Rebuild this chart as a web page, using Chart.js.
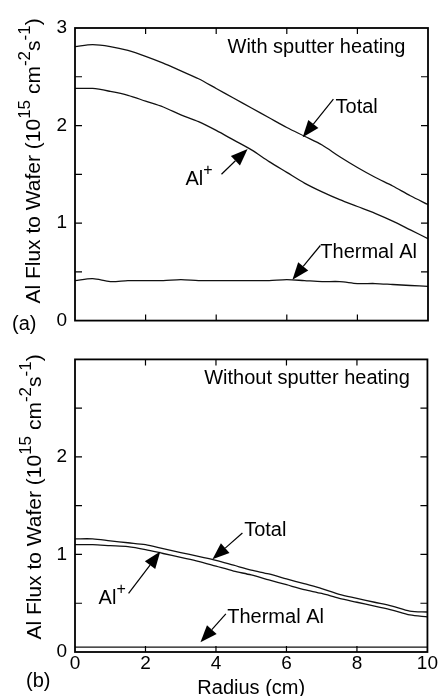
<!DOCTYPE html>
<html lang="en">
<head>
<meta charset="UTF-8">
<script src="https://cdn.jsdelivr.net/npm/chart.js@4.4.0/dist/chart.umd.min.js"></script>
<title>Al flux to wafer</title>
<style>
  body { margin: 0; background: #fff; }
  #wrap { position: relative; width: 438px; height: 696px; }
  canvas { position: absolute; left: 0; }
</style>
</head>
<body>
<div id="wrap">
  <canvas id="chartA" width="438" height="340" style="top:0"></canvas>
  <canvas id="chartB" width="438" height="356" style="top:340px"></canvas>
</div>
<script>
// radius (cm)
const radius = [0, 0.5, 1, 1.5, 2, 2.5, 3, 3.5, 4, 4.5, 5, 5.5, 6, 6.5, 7, 7.5, 8, 8.5, 9, 9.5, 10];

// (a) with sputter heating, 10^15 cm-2 s-1
const totalHeated   = [2.81, 2.83, 2.81, 2.77, 2.71, 2.64, 2.56, 2.48, 2.38, 2.28, 2.18, 2.08, 1.98, 1.89, 1.80, 1.68, 1.57, 1.47, 1.38, 1.28, 1.19];
const ionHeated     = [2.38, 2.38, 2.35, 2.31, 2.25, 2.19, 2.11, 2.04, 1.95, 1.85, 1.75, 1.63, 1.52, 1.41, 1.32, 1.24, 1.17, 1.10, 1.02, 0.93, 0.84];
const thermalHeated = [0.41, 0.43, 0.40, 0.41, 0.41, 0.41, 0.42, 0.41, 0.41, 0.41, 0.41, 0.41, 0.42, 0.41, 0.40, 0.40, 0.38, 0.38, 0.37, 0.36, 0.35];

// (b) without sputter heating
const totalCold   = [1.16, 1.16, 1.14, 1.12, 1.10, 1.06, 1.02, 0.98, 0.94, 0.89, 0.84, 0.80, 0.75, 0.70, 0.65, 0.59, 0.55, 0.51, 0.47, 0.42, 0.41];
const ionCold     = [1.10, 1.10, 1.09, 1.08, 1.05, 1.01, 0.97, 0.93, 0.88, 0.83, 0.79, 0.74, 0.69, 0.64, 0.60, 0.55, 0.51, 0.47, 0.43, 0.38, 0.36];
const thermalCold = [0.05, 0.05, 0.05, 0.05, 0.05, 0.05, 0.05, 0.05, 0.05, 0.05, 0.05, 0.05, 0.05, 0.05, 0.05, 0.05, 0.05, 0.05, 0.05, 0.05, 0.05];

const FONT = '"Liberation Sans", Arial, Helvetica, sans-serif';
Chart.defaults.font.family = FONT;
Chart.defaults.color = '#000';

function pts(ys) {
  return radius.map((r, i) => ({ x: r, y: ys[i] }));
}

function line(ys) {
  return {
    data: pts(ys),
    borderColor: '#111',
    borderWidth: 1.3,
    pointRadius: 0,
    tension: 0.3,
    fill: false
  };
}

// draw text with superscript pieces, starting at x (left), baseline y
function richWidth(ctx, parts, size) {
  let w = 0;
  parts.forEach(p => {
    ctx.font = (p.sup ? Math.round(size * 0.8) : size) + 'px ' + FONT;
    w += ctx.measureText(p.t).width;
  });
  return w;
}
function drawRich(ctx, parts, x, y, size) {
  parts.forEach(p => {
    ctx.font = (p.sup ? Math.round(size * 0.8) : size) + 'px ' + FONT;
    ctx.fillText(p.t, x, p.sup ? y - size * 0.42 : y);
    x += ctx.measureText(p.t).width;
  });
}

function arrow(ctx, x1, y1, x2, y2) {
  const a = Math.atan2(y2 - y1, x2 - x1);
  const len = 17, half = 6.5;
  const bx = x2 - len * Math.cos(a), by = y2 - len * Math.sin(a);
  ctx.beginPath();
  ctx.moveTo(x1, y1);
  ctx.lineTo(bx, by);
  ctx.lineWidth = 1.2;
  ctx.stroke();
  ctx.beginPath();
  ctx.moveTo(x2, y2);
  ctx.lineTo(bx + half * Math.sin(a), by - half * Math.cos(a));
  ctx.lineTo(bx - half * Math.sin(a), by + half * Math.cos(a));
  ctx.closePath();
  ctx.fill();
}

const yLabelParts = [
  { t: 'Al Flux to Wafer (10' }, { t: '15', sup: true }, { t: ' cm' },
  { t: '-2', sup: true }, { t: 's' }, { t: '-1', sup: true }, { t: ')' }
];

function figurePlugin(cfg) {
  return {
    id: 'figure',
    afterDraw(chart) {
      const ctx = chart.ctx;
      const ca = chart.chartArea;
      const xs = chart.scales.x, ys = chart.scales.y;
      ctx.save();
      ctx.strokeStyle = '#000';
      ctx.fillStyle = '#000';

      // frame
      ctx.lineWidth = 1.8;
      ctx.strokeRect(ca.left, ca.top, ca.right - ca.left, ca.bottom - ca.top);

      // inward ticks
      ctx.lineWidth = 1.2;
      ctx.beginPath();
      ys.ticks.forEach(t => {
        if (t.value <= ys.min || t.value >= ys.max) return;
        const py = ys.getPixelForValue(t.value);
        ctx.moveTo(ca.left, py); ctx.lineTo(ca.left + 7, py);
        ctx.moveTo(ca.right, py); ctx.lineTo(ca.right - 7, py);
      });
      xs.ticks.forEach(t => {
        if (t.value <= xs.min || t.value >= xs.max) return;
        const px = xs.getPixelForValue(t.value);
        ctx.moveTo(px, ca.bottom); ctx.lineTo(px, ca.bottom - 6);
        ctx.moveTo(px, ca.top); ctx.lineTo(px, ca.top + 6);
      });
      ctx.stroke();

      // y axis title, rotated
      ctx.save();
      ctx.translate(cfg.yTitleX, cfg.yTitleY);
      ctx.rotate(-Math.PI / 2);
      ctx.textBaseline = 'middle';
      ctx.textAlign = 'left';
      const w = richWidth(ctx, yLabelParts, 21);
      drawRich(ctx, yLabelParts, -w / 2, 0, 21);
      ctx.restore();

      // panel letter
      ctx.textBaseline = 'middle';
      ctx.textAlign = 'left';
      ctx.font = '20px ' + FONT;
      ctx.fillText(cfg.panel, cfg.panelX, cfg.panelY);

      // heading inside the box
      ctx.textAlign = 'right';
      ctx.fillText(cfg.heading, xs.getPixelForValue(cfg.headingAt[0]), ys.getPixelForValue(cfg.headingAt[1]));

      // curve labels with arrows
      ctx.textAlign = 'left';
      cfg.notes.forEach(n => {
        const tx = xs.getPixelForValue(n.text[0]), ty = ys.getPixelForValue(n.text[1]);
        drawRich(ctx, n.parts, tx, ty, 20);
        arrow(ctx, xs.getPixelForValue(n.from[0]), ys.getPixelForValue(n.from[1]),
                   xs.getPixelForValue(n.to[0]), ys.getPixelForValue(n.to[1]));
      });
      ctx.restore();
    }
  };
}

function makeChart(id, sets, opts) {
  return new Chart(document.getElementById(id), {
    type: 'line',
    data: { datasets: sets.map(line) },
    options: {
      responsive: false,
      animation: false,
      layout: { padding: { left: 0, right: 10, top: opts.top, bottom: 0 } },
      plugins: { legend: { display: false }, tooltip: { enabled: false } },
      scales: {
        x: {
          type: 'linear', min: 0, max: 10,
          grid: { display: false, drawTicks: false },
          border: { display: false },
          ticks: { stepSize: 2, display: opts.xLabels, padding: 0, font: { size: 19 } },
          title: {
            display: opts.xLabels, text: 'Radius (cm)',
            font: { size: 20, lineHeight: 0.8 }, padding: 0
          },
          afterFit: s => { s.height = opts.xHeight; }
        },
        y: {
          min: 0, max: 3,
          grid: { display: false, drawTicks: false },
          border: { display: false },
          ticks: {
            stepSize: 0.5, padding: 8, font: { size: 19 },
            callback: v => (Number.isInteger(v) && v <= opts.yTop) ? String(v) : ''
          },
          afterFit: s => { s.width = 75; }
        }
      }
    },
    plugins: [figurePlugin(opts)]
  });
}

const sup = (a, b) => [{ t: a }, { t: b, sup: true }];

makeChart('chartA', [totalHeated, ionHeated, thermalHeated], {
  top: 28, xHeight: 12, xLabels: false, yTop: 3,
  yTitleX: 34, yTitleY: 161,
  panel: '(a)', panelX: 12, panelY: 324,
  heading: 'With sputter heating', headingAt: [9.36, 2.80],
  notes: [
    { parts: [{ t: 'Total' }], text: [7.38, 2.18], from: [7.32, 2.27], to: [6.45, 1.88] },
    { parts: sup('Al', '+'), text: [3.13, 1.45], from: [4.15, 1.50], to: [4.89, 1.76] },
    { parts: [{ t: 'Thermal Al' }], text: [6.95, 0.70], from: [6.95, 0.77], to: [6.16, 0.42] }
  ]
});

makeChart('chartB', [totalCold, ionCold, thermalCold], {
  top: 12, xHeight: 44, xLabels: true, yTop: 2,
  yTitleX: 35, yTitleY: 157,
  panel: '(b)', panelX: 26, panelY: 341,
  heading: 'Without sputter heating', headingAt: [9.5, 2.80],
  notes: [
    { parts: [{ t: 'Total' }], text: [4.8, 1.25], from: [4.75, 1.22], to: [3.9, 0.95] },
    { parts: sup('Al', '+'), text: [0.67, 0.55], from: [1.52, 0.60], to: [2.42, 1.03] },
    { parts: [{ t: 'Thermal Al' }], text: [4.32, 0.35], from: [4.28, 0.39], to: [3.56, 0.10] }
  ]
});
</script>
</body>
</html>
